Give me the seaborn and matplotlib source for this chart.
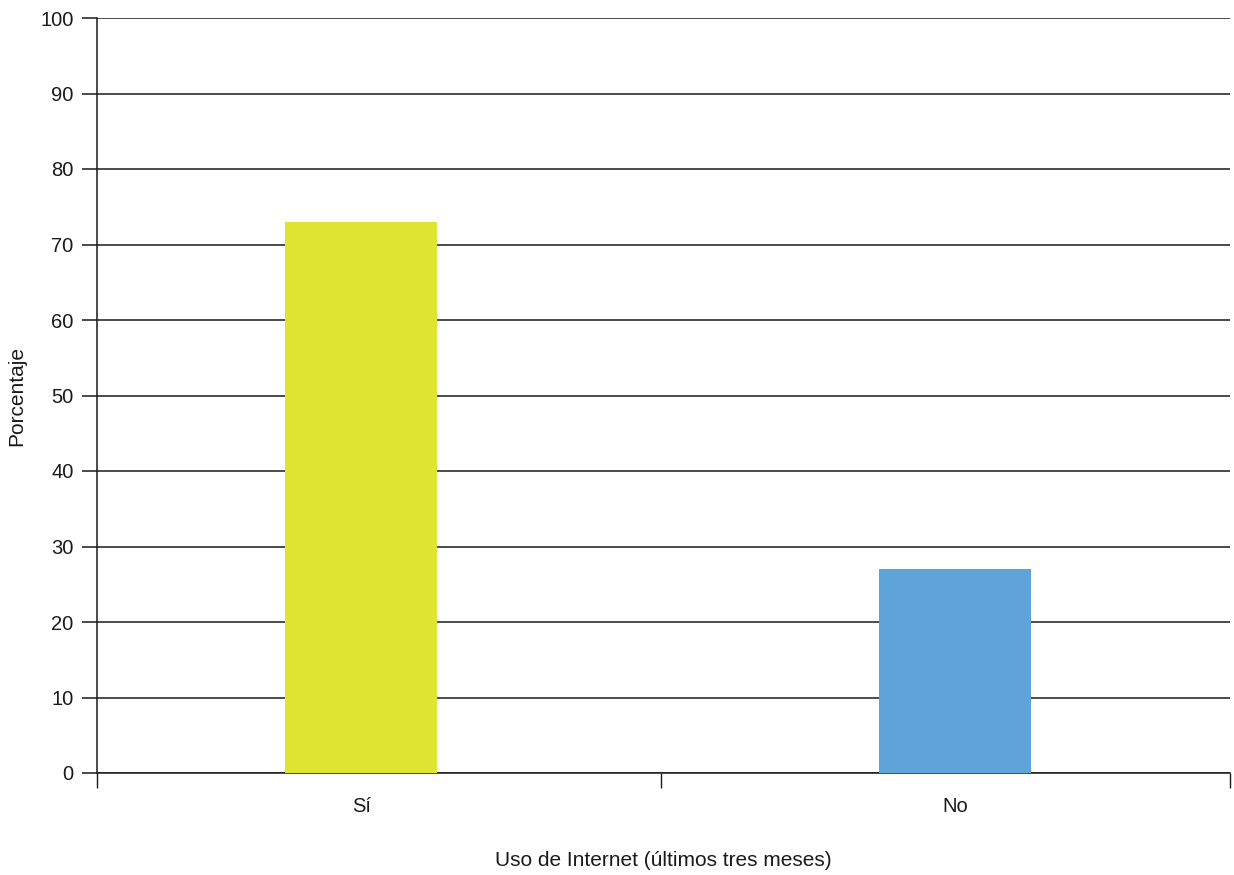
import matplotlib
matplotlib.use("Agg")
import matplotlib.pyplot as plt
import seaborn as sns
import pandas as pd

categories = ["Sí", "No"]
values = [73, 27]
colors = ["#DFE332", "#5FA4D8"]
yticks = list(range(0, 101, 10))

sns.set_style("white")
plt.rcParams["font.family"] = ["Liberation Sans", "DejaVu Sans"]

df = pd.DataFrame({"cat": categories, "val": values})

fig = plt.figure(figsize=(12.34, 8.75), dpi=100)
ax = fig.add_axes([97/1234, 1 - 773/875, (1230-97)/1234, (773-18)/875])

sns.barplot(data=df, x="cat", y="val", hue="cat", palette=colors, legend=False,
            width=0.256, ax=ax, saturation=1, zorder=3, linewidth=0, edgecolor="none")

ax.set_xlim(-0.445, 1.463)
ax.set_ylim(0, 100)
ax.set_yticks(yticks)
ax.yaxis.grid(True, color="#1a1a1a", linewidth=1.1, zorder=0)
ax.set_axisbelow(True)

for s in ["top", "right"]:
    ax.spines[s].set_visible(False)
for s in ["left", "bottom"]:
    ax.spines[s].set_color("#1a1a1a")
    ax.spines[s].set_linewidth(1.1)

ax.set_xticks([0, 1])
ax.set_xticklabels(categories)
ax.tick_params(axis="x", which="major", length=0, pad=17, labelsize=14.5, colors="#1a1a1a", bottom=True)
ax.set_xticks([-0.445, 0.505, 1.463], minor=True)
ax.tick_params(axis="x", which="minor", length=11, width=1.0, color="#1a1a1a", direction="out", bottom=True)
ax.tick_params(axis="y", length=11, width=1.1, color="#1a1a1a", labelsize=14.5, pad=6, direction="out", left=True)
for lbl in ax.get_yticklabels():
    lbl.set_color("#1a1a1a")

ax.set_xlabel("Uso de Internet (últimos tres meses)", fontsize=15, color="#1a1a1a", va="center")
ax.xaxis.set_label_coords(0.5, -(860 - 773) / 755)
ax.set_ylabel("Porcentaje", fontsize=15, labelpad=10, color="#1a1a1a")

fig.savefig("out.png", dpi=100)
